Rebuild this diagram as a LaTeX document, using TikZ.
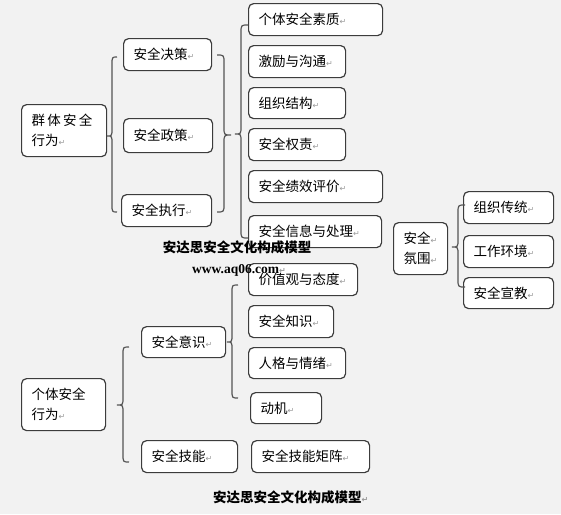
\documentclass[tikz,border=0pt]{standalone}
\usepackage{fontspec}
\setmainfont{Noto Sans CJK SC}
\newfontfamily\dejavu{DejaVu Sans}
\newfontfamily\timesb{Liberation Serif}
\definecolor{bgc}{RGB}{242,242,242}
\definecolor{edgec}{RGB}{60,60,60}
\definecolor{bracec}{RGB}{85,85,85}
\newcommand\rt{{\dejavu\fontsize{8}{8}\selectfont\textcolor{gray!80}{↵}}}
\tikzset{
  box/.style={draw=edgec, line width=1.2pt, rounded corners=5pt, fill=white,
    anchor=north west, inner xsep=10pt, inner ysep=0pt, align=left,
    font=\fontsize{13.5}{20}\selectfont},
  bracestyle/.style={draw=bracec, line width=1.2pt},
  titletext/.style={font=\fontsize{13.5}{16}\selectfont\bfseries, inner sep=0pt}
}
\newcommand\bx[6]{%
  \node[box, minimum width={(#4-#2)*1pt}, minimum height={(#5-#3)*1pt},
        text width={(#4-#2-20)*1pt}] (#1) at (#2,#3) {#6};}
\newcommand\mybrace[7]{%
  \draw[bracestyle] (#3,#4) .. controls (#2,#4) .. (#2,{#4+#7}) -- (#2,{#5-#7})
    .. controls (#2,#5) .. (#1,#5) .. controls (#2,#5) .. (#2,{#5+#7})
    -- (#2,{#6-#7}) .. controls (#2,#6) .. (#3,#6);}
\begin{document}
\begin{tikzpicture}[x=1pt,y=-1pt]
\fill[bgc] (0,0) rectangle (561,514);
\useasboundingbox (0,0) rectangle (561,514);

% upper part
\bx{qt}{21}{104}{106}{156}{群\,体\,安\,全\\行为\rt}
\bx{jc}{123}{38}{211}{70}{安全决策\rt}
\bx{zc}{123}{118}{212}{152}{安全政策\rt}
\bx{zx}{121}{194}{211}{226}{安全执行\rt}
\bx{sz}{248}{3}{382}{35}{个体安全素质\rt}
\bx{jl}{248}{45}{345}{77}{激励与沟通\rt}
\bx{zz}{248}{87}{345}{118}{组织结构\rt}
\bx{qz}{248}{128}{345}{160}{安全权责\rt}
\bx{jx}{248}{170}{382}{202}{安全绩效评价\rt}
\bx{xx}{248}{215}{381}{247}{安全信息与处理\rt}

% atmosphere
\bx{fw}{393}{222}{447}{274}{安全\rt\\氛围\rt}
\bx{ct}{463}{191}{553}{223}{组织传统\rt}
\bx{hj}{463}{235}{553}{267}{工作环境\rt}
\bx{xj}{463}{277}{553}{308}{安全宣教\rt}

% lower part
\bx{gt}{21}{378}{105}{430}{个体安全\\行为\rt}
\bx{ys}{141}{326}{225}{357}{安全意识\rt}
\bx{jn}{141}{440}{237}{472}{安全技能\rt}
\bx{jz}{251}{440}{369}{472}{安全技能矩阵\rt}
\bx{tf}{248}{263}{357}{295}{价值观与态度\rt}
\bx{zs}{248}{305}{333}{337}{安全知识\rt}
\bx{rg}{248}{347}{345}{378}{人格与情绪\rt}
\bx{dj}{250}{392}{321}{423}{动机\rt}

% braces
\mybrace{107}{112}{117}{57}{136}{212}{8}
\mybrace{231}{224}{217}{55}{135}{212}{8}
\mybrace{235}{241}{248}{25}{134}{238}{8}
\mybrace{452}{458}{465}{205}{247}{287}{8}
\mybrace{117}{123}{129}{347}{405}{462}{8}
\mybrace{227}{232}{238}{285}{342}{398}{8}

% titles
\node[titletext] (t1) at (237,247) {安达思安全文化构成模型};
\node[inner sep=0pt, anchor=west] (web) at (192,270) {\timesb\fontsize{13.5}{14}\selectfont\bfseries www.aq06.com\rt};
\node[titletext, anchor=west] (t2) at (213,497) {安达思安全文化构成模型\rt};
\end{tikzpicture}
\end{document}
